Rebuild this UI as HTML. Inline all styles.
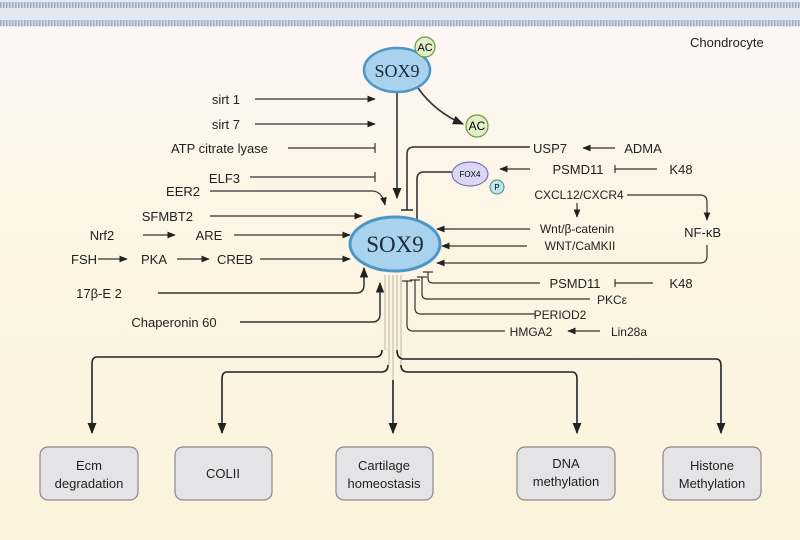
<!DOCTYPE html>
<html><head><meta charset="utf-8"><style>
html,body{margin:0;padding:0;}
body{width:800px;height:540px;overflow:hidden;}
svg{display:block;font-family:"Liberation Sans",sans-serif;}
</style></head><body>
<svg width="800" height="540" viewBox="0 0 800 540" xmlns="http://www.w3.org/2000/svg">
<defs>
<linearGradient id="bg" x1="0" y1="0" x2="0" y2="1">
<stop offset="0" stop-color="#fdf7f8"/><stop offset="0.35" stop-color="#fdf5e6"/><stop offset="1" stop-color="#fcf3dc"/>
</linearGradient>
<pattern id="mem" width="3" height="6" patternUnits="userSpaceOnUse">
<rect width="3" height="6" fill="#d0d9e4"/><rect width="1.5" height="6" fill="#9fb0c3"/>
</pattern>
<marker id="a" viewBox="0 0 10 10" refX="9" refY="5" markerWidth="7" markerHeight="7" orient="auto-start-reverse"><path d="M0,1 L10,5 L0,9 z" fill="#222"/></marker>
</defs>
<rect width="800" height="540" fill="url(#bg)"/>
<rect x="0" y="0" width="800" height="27" fill="#e3e9f0"/>
<rect x="0" y="2" width="800" height="6" fill="url(#mem)"/>
<rect x="0" y="20" width="800" height="6" fill="url(#mem)"/>
<text x="690" y="47" font-size="13" fill="#222">Chondrocyte</text>

<g fill="none" stroke="#333" stroke-width="1.6">
<path d="M397 92 L397 198" marker-end="url(#a)"/>
<path d="M418 88 Q435 112 463 124" marker-end="url(#a)"/>
<path d="M530 147 L414 147 Q407 147 407 154 L407 210"/><path d="M401 210 L413 210"/>
<path d="M455 172 L424 172 Q417 172 417 179 L417 225"/><path d="M411 225 L423 225"/>
</g>
<g fill="none" stroke="#333" stroke-width="1.2">
<path d="M255 99 L375 99" marker-end="url(#a)"/>
<path d="M255 124 L375 124" marker-end="url(#a)"/>
<path d="M288 148 L375 148"/><path d="M375 143 L375 153"/>
<path d="M250 177 L375 177"/><path d="M375 172 L375 182"/>
<path d="M210 191 L372 191 Q382 191 385 205" marker-end="url(#a)"/>
<path d="M210 216 L362 216" marker-end="url(#a)"/>
<path d="M143 235 L175 235" marker-end="url(#a)"/>
<path d="M234 235 L350 235" marker-end="url(#a)"/>
<path d="M98 259 L127 259" marker-end="url(#a)"/>
<path d="M177 259 L209 259" marker-end="url(#a)"/>
<path d="M260 259 L350 259" marker-end="url(#a)"/>
<path d="M158 293 L356 293 Q364 293 364 285 L364 268" marker-end="url(#a)" stroke-width="1.5"/>
<path d="M240 322 L372 322 Q380 322 380 314 L380 283" marker-end="url(#a)" stroke-width="1.5"/>
<path d="M615 148 L583 148" marker-end="url(#a)"/>
<path d="M657 169 L615 169"/><path d="M615 165 L615 173"/>
<path d="M530 169 L500 169" marker-end="url(#a)"/>
<path d="M577 203 L577 217" marker-end="url(#a)"/>
<path d="M627 195 L700 195 Q707 195 707 202 L707 220" marker-end="url(#a)"/>
<path d="M530 229 L437 229" marker-end="url(#a)"/>
<path d="M527 246 L442 246" marker-end="url(#a)"/>
<path d="M707 245 L707 256 Q707 263 700 263 L437 263" marker-end="url(#a)"/>
<path d="M653 283 L615 283"/><path d="M615 279 L615 287"/>
<path d="M540 283 L433 283 Q428 283 428 278 L428 272"/><path d="M423 272 L433 272"/>
<path d="M590 299 L427 299 Q422 299 422 294 L422 277"/><path d="M417 277 L427 277"/>
<path d="M535 314 L421 314 Q415 314 415 308 L415 280"/><path d="M410 280 L420 280"/>
<path d="M600 331 L568 331" marker-end="url(#a)"/>
<path d="M505 331 L413 331 Q407 331 407 325 L407 281"/><path d="M402 281 L412 281"/>
</g>
<g fill="none" stroke="#c9c0a8" stroke-width="1.2">
<path d="M385 275 L385 350"/><path d="M389 275 L389 365"/><path d="M393 275 L393 400"/><path d="M397 275 L397 350"/><path d="M401 275 L401 365"/>
</g>
<g fill="none" stroke="#222" stroke-width="1.6">
<path d="M382 350 Q382 357 375 357 L97 357 Q92 357 92 364 L92 433" marker-end="url(#a)"/>
<path d="M388 365 Q388 372 381 372 L227 372 Q222 372 222 379 L222 433" marker-end="url(#a)"/>
<path d="M393 380 L393 433" marker-end="url(#a)"/>
<path d="M401 365 Q401 372 408 372 L572 372 Q577 372 577 379 L577 433" marker-end="url(#a)"/>
<path d="M397 350 Q397 359 404 359 L716 359 Q721 359 721 366 L721 433" marker-end="url(#a)"/>
</g>

<ellipse cx="397" cy="70" rx="33" ry="22" fill="#a9d2ee" stroke="#4c97c7" stroke-width="2.5"/>
<text x="397" y="77" font-family="Liberation Serif,serif" font-size="18" text-anchor="middle" fill="#1a2a3a">SOX9</text>
<circle cx="425" cy="47" r="10" fill="#e3f0c8" stroke="#6a9a3a" stroke-width="1.2"/>
<text x="425" y="51" font-size="11" text-anchor="middle">AC</text>
<circle cx="477" cy="126" r="11" fill="#e3f0c8" stroke="#6a9a3a" stroke-width="1.2"/>
<text x="477" y="130" font-size="12" text-anchor="middle">AC</text>
<ellipse cx="395" cy="244" rx="45" ry="27" fill="#a9d2ee" stroke="#4c97c7" stroke-width="3"/>
<text x="395" y="252" font-family="Liberation Serif,serif" font-size="23" text-anchor="middle" fill="#1a2a3a">SOX9</text>
<ellipse cx="470" cy="174" rx="18" ry="12" fill="#dcd6f5" stroke="#6a5ab0" stroke-width="1"/>
<text x="470" y="177" font-size="8" text-anchor="middle">FOX4</text>
<circle cx="497" cy="187" r="7" fill="#bfe6ea" stroke="#3a8a9a" stroke-width="1"/>
<text x="497" y="190" font-size="8" text-anchor="middle">P</text>

<g font-size="13" fill="#222">
<text x="240" y="104" text-anchor="end">sirt 1</text>
<text x="240" y="129" text-anchor="end">sirt 7</text>
<text x="268" y="153" text-anchor="end">ATP citrate lyase</text>
<text x="240" y="183" text-anchor="end">ELF3</text>
<text x="200" y="196" text-anchor="end">EER2</text>
<text x="193" y="221" text-anchor="end">SFMBT2</text>
<text x="102" y="240" text-anchor="middle">Nrf2</text>
<text x="209" y="240" text-anchor="middle">ARE</text>
<text x="84" y="264" text-anchor="middle">FSH</text>
<text x="154" y="264" text-anchor="middle">PKA</text>
<text x="235" y="264" text-anchor="middle">CREB</text>
<text x="99" y="298" text-anchor="middle">17β-E 2</text>
<text x="174" y="327" text-anchor="middle">Chaperonin 60</text>
<text x="550" y="153" text-anchor="middle">USP7</text>
<text x="643" y="153" text-anchor="middle">ADMA</text>
<text x="578" y="174" text-anchor="middle">PSMD11</text>
<text x="681" y="174" text-anchor="middle">K48</text>
<text x="721" y="237" text-anchor="end">NF-κB</text>
<text x="575" y="288" text-anchor="middle">PSMD11</text>
<text x="681" y="288" text-anchor="middle">K48</text>
</g>
<g font-size="12" fill="#222">
<text x="579" y="199" text-anchor="middle">CXCL12/CXCR4</text>
<text x="577" y="233" text-anchor="middle">Wnt/β-catenin</text>
<text x="580" y="250" text-anchor="middle">WNT/CaMKII</text>
<text x="612" y="304" text-anchor="middle">PKCε</text>
<text x="560" y="319" text-anchor="middle">PERIOD2</text>
<text x="531" y="336" text-anchor="middle">HMGA2</text>
<text x="629" y="336" text-anchor="middle">Lin28a</text>
</g>

<g fill="#e4e4e6" stroke="#8a8a8a" stroke-width="1.2">
<rect x="40" y="447" width="98" height="53" rx="8"/>
<rect x="175" y="447" width="97" height="53" rx="8"/>
<rect x="336" y="447" width="97" height="53" rx="8"/>
<rect x="517" y="447" width="98" height="53" rx="8"/>
<rect x="663" y="447" width="98" height="53" rx="8"/>
</g>
<g font-size="13" fill="#222" text-anchor="middle">
<text x="89" y="470">Ecm</text><text x="89" y="488">degradation</text>
<text x="223" y="478">COLII</text>
<text x="384" y="470">Cartilage</text><text x="384" y="488">homeostasis</text>
<text x="566" y="468">DNA</text><text x="566" y="486">methylation</text>
<text x="712" y="470">Histone</text><text x="712" y="488">Methylation</text>
</g>
</svg>
</body></html>
